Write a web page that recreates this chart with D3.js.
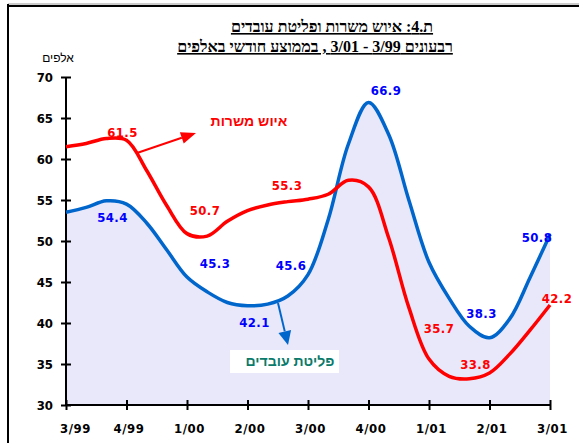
<!DOCTYPE html>
<html><head><meta charset="utf-8">
<script src="https://cdn.jsdelivr.net/npm/d3@7/dist/d3.min.js"></script>
<style>body{margin:0;background:#fff}svg{display:block}</style>
</head><body>
<svg id="c" width="579" height="443"></svg>
<script>
// ---- data ----
const quarterLabels = ["3/99","4/99","1/00","2/00","3/00","4/00","1/01","2/01","3/01"];
const yTicks = [30,35,40,45,50,55,60,65,70];
// monthly readings (25 points, 3/99 .. 3/01)
const staffing = [61.5,61.9,62.5,62.3,58.6,54.3,50.9,50.6,52.4,53.7,54.4,54.8,55.1,55.7,57.4,56.6,50.4,41.9,35.6,33.5,33.2,33.9,36.2,39.1,42.2];
const outflow  = [53.5,54.1,54.9,54.5,52.2,48.9,45.6,43.8,42.5,42.1,42.3,43.3,45.9,52.6,61.8,66.9,63.0,55.0,47.4,43.0,39.6,38.2,40.5,45.5,50.8];
const staffingLabelIdx = [3,6,12,18,21,24];
const staffingLabelVal = ["61.5","50.7","55.3","35.7","33.8","42.2"];
const outflowLabelIdx = [3,6,9,12,15,21,24];
const outflowLabelVal = ["54.4","45.3","42.1","45.6","66.9","38.3","50.8"];
const titleLines = ["ת.4: איוש משרות ופליטת עובדים","רבעונים 3/99 - 3/01 , בממוצע חודשי באלפים"];
const unitLabel = "אלפים";
const staffingName = "איוש משרות";
const outflowName = "פליטת עובדים";

// ---- drawing ----
const svg = d3.select("#c");
const x = d3.scaleLinear().domain([0, 24]).range([66, 550]);
const y = d3.scaleLinear().domain([30, 70]).range([405, 77]);
const xq = d3.scaleLinear().domain([0, 8]).range([66, 550]);
const idx = d3.range(staffing.length);

// frame
svg.append("line").attr("x1",8).attr("x2",579).attr("y1",4).attr("y2",4).attr("stroke","#999").attr("stroke-width",1);
svg.append("line").attr("x1",8).attr("x2",579).attr("y1",6).attr("y2",6).attr("stroke","#000").attr("stroke-width",2);
svg.append("line").attr("x1",8).attr("x2",8).attr("y1",4).attr("y2",443).attr("stroke","#000").attr("stroke-width",2);

// title
const tfont = "'Liberation Serif','Times New Roman',serif";
svg.append("text").attr("x",332).attr("y",32).attr("text-anchor","middle").attr("direction","rtl")
  .style("font-family",tfont).style("font-weight","bold").style("font-size","16px").style("text-decoration","underline")
  .text(titleLines[0]);
svg.append("text").attr("x",315).attr("y",52).attr("text-anchor","middle").attr("direction","rtl")
  .style("font-family",tfont).style("font-weight","bold").style("font-size","16px").style("text-decoration","underline")
  .text(titleLines[1]);

// area under outflow
const curve = d3.curveCatmullRom.alpha(0.5);
svg.append("path").datum(idx)
  .attr("d", d3.area().x(i=>x(i)).y0(y(30)).y1(i=>y(outflow[i])).curve(curve))
  .attr("fill","#E8E8FA");

// axes
const numFont = "'DejaVu Sans Condensed','DejaVu Sans',sans-serif";
const yAxis = svg.append("g").attr("transform","translate(66,0)")
  .call(d3.axisLeft(y).tickValues(yTicks).tickSize(5).tickPadding(8).tickFormat(d3.format("d")));
yAxis.select(".domain").attr("stroke","#000").attr("stroke-width",2).attr("d","M0,"+y(70)+"V"+y(30));
yAxis.selectAll(".tick line").attr("x2",5).attr("x1",-5).attr("stroke","#000").attr("stroke-width",2);
yAxis.selectAll(".tick text").attr("x",-13).style("font-family",numFont).style("font-stretch","condensed")
  .style("font-weight","bold").style("font-size","13px").attr("fill","#000");

const xAxis = svg.append("g").attr("transform","translate(0,405)")
  .call(d3.axisBottom(xq).tickValues(d3.range(quarterLabels.length)).tickFormat(i=>quarterLabels[i]).tickSize(5).tickPadding(14));
xAxis.select(".domain").attr("stroke","#000").attr("stroke-width",2).attr("d","M66,0H550");
xAxis.selectAll(".tick line").attr("y1",-5).attr("y2",5).attr("stroke","#000").attr("stroke-width",2);
xAxis.selectAll(".tick text").style("font-family",numFont).style("font-stretch","condensed")
  .style("font-weight","bold").style("font-size","13px").style("letter-spacing","0.6px").attr("fill","#000")
  .attr("dx",(d,i)=>i===0?9:2);

svg.append("text").attr("x",58).attr("y",62).attr("text-anchor","middle").attr("direction","rtl")
  .style("font-family","'Liberation Sans',Arial,sans-serif").style("font-size","12px").text(unitLabel);

// lines
svg.append("path").datum(idx)
  .attr("d", d3.line().x(i=>x(i)).y(i=>y(outflow[i])).curve(curve))
  .attr("fill","none").attr("stroke","#0066CC").attr("stroke-width",3.5).attr("stroke-linejoin","round");
svg.append("path").datum(idx)
  .attr("d", d3.line().x(i=>x(i)).y(i=>y(staffing[i])).curve(curve))
  .attr("fill","none").attr("stroke","#FF0000").attr("stroke-width",3.5).attr("stroke-linejoin","round");

// value labels
const sOff = [[-4,-10],[18,-20],[-21,-7.5],[10,-25],[-14,-5],[7,-2]];
const oOff = [[-14,17],[28,-11.5],[7,21],[-17,-7],[17.5,-7.5],[-8,-19],[-13,7.5]];
function lab(idxs, vals, offs, color){
  svg.append("g").selectAll("text").data(idxs).join("text")
    .attr("x",(d,k)=>x(d)+offs[k][0]).attr("y",(d,k)=>y(+vals[k])+offs[k][1])
    .attr("text-anchor","middle").attr("fill",color)
    .style("font-family",numFont).style("font-stretch","condensed").style("font-weight","bold")
    .style("font-size","13px").style("letter-spacing","0.4px")
    .text((d,k)=>vals[k]);
}
lab(staffingLabelIdx, staffingLabelVal, sOff, "#FF0000");
lab(outflowLabelIdx, outflowLabelVal, oOff, "#0000FF");

// annotations
function arrow(x1,y1,x2,y2,color,len,w){
  const a = Math.atan2(y2-y1,x2-x1);
  const bx = x2-len*Math.cos(a), by = y2-len*Math.sin(a);
  svg.append("line").attr("x1",x1).attr("y1",y1).attr("x2",bx).attr("y2",by).attr("stroke",color).attr("stroke-width",2);
  const px = -Math.sin(a)*w/2, py = Math.cos(a)*w/2;
  svg.append("path").attr("d",`M${x2},${y2}L${bx+px},${by+py}L${bx-px},${by-py}Z`).attr("fill",color);
}
arrow(137,153,196,133,"#FF0000",15,12);
arrow(278,303,288,345,"#0066CC",14,13);

svg.append("text").attr("x",249).attr("y",126).attr("text-anchor","middle").attr("direction","rtl")
  .attr("fill","#FF0000").style("font-family","'Liberation Sans',Arial,sans-serif").style("font-weight","bold").style("font-size","14px")
  .text(staffingName);
svg.append("rect").attr("x",230).attr("y",350).attr("width",109).attr("height",23).attr("fill","#fff");
svg.append("text").attr("x",290).attr("y",366).attr("text-anchor","middle").attr("direction","rtl")
  .attr("fill","#0A7A6A").style("font-family","'Liberation Sans',Arial,sans-serif").style("font-weight","bold").style("font-size","14px")
  .text(outflowName);
</script>
</body></html>
